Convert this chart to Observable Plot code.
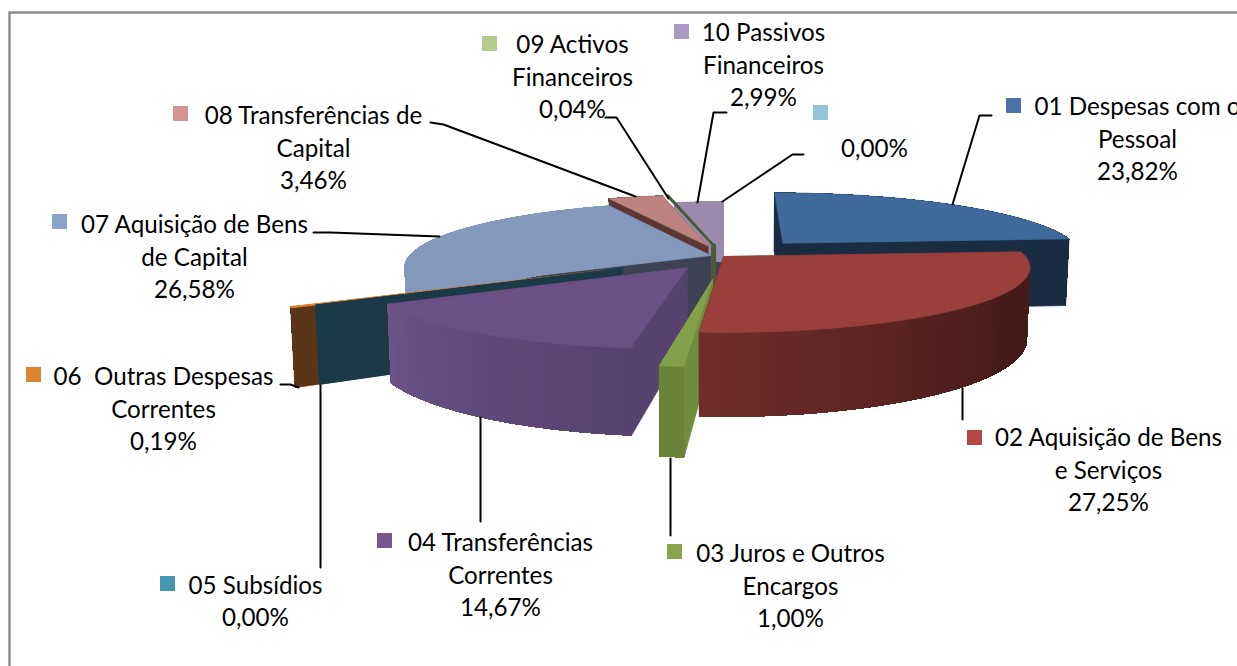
<!DOCTYPE html>
<html>
<head>
<meta charset="utf-8">
<script src="https://cdn.jsdelivr.net/npm/d3@7"></script>
<script src="https://cdn.jsdelivr.net/npm/@observablehq/plot@0.6"></script>
<style>
html,body{margin:0;padding:0;background:#fff;overflow:hidden}
svg{display:block;max-width:none}
</style>
</head>
<body>
<div id="chart"></div>
<script>
// ---- data
const categories = ["01 Despesas com o\nPessoal","02 Aquisição de Bens\ne Serviços","03 Juros e Outros\nEncargos","04 Transferências\nCorrentes","05 Subsídios","06  Outras Despesas\nCorrentes","07 Aquisição de Bens\nde Capital","08 Transferências de\nCapital","09 Activos\nFinanceiros","10 Passivos\nFinanceiros",""];
const values = [23.82,27.25,1.00,14.67,0.00,0.19,26.58,3.46,0.04,2.99,0.00];

// ---- styling
const explode = [0.30,0,0.35,0.21,0.375,0.445,0.045,0.18,0.18,0.02,0];
const keyColors = ["#4a74a8","#b54744","#86a44a","#75568f","#4198af","#dd8433","#8aa3cb","#d49493","#b3cc8e","#a99bc3","#93c4da"];
const topColors = ["#3f6a9b","#9b3f3d","#83a04a","#6a5085","#1b3a47","#e07f2a","#8599bd","#bc8380","#4d5a38","#9a8bac","#93c4da"];
const wallFrom  = ["#1a2c42","#702d2b","#6b8239","#57416f","#1b3a47","#5a3518","#8599bd","#5a3838","#4d5a38","#9a8bac","#93c4da"];
const wallTo    = ["#1a2c42","#451b19","#6b8239","#6b5287","#1b3a47","#5a3518","#8599bd","#5a3838","#4d5a38","#9a8bac","#93c4da"];
const sideStart = ["#1a2c42","#702d2b","#728c3e","#57416f","#1b3a47","#5a3518","#3c4253","#5a3838","#4d5a38","#3c4253","#93c4da"];
const sideEnd   = ["#1a2c42","#451b19","#728c3e","#57416f","#1b3a47","#5a3518","#3c4253","#5a3838","#4d5a38","#3c4253","#93c4da"];
const paintOrder = [9,0,7,8,6,"olive",5,4,3,2,1];

// ---- pie camera model
const cam = {cx:723, cy:256, rx:302, ry:63, p:0.17, depth:70, shrink:0.99};
const project = (X,Y,down) => {
  const w = 1 + cam.p*Y;
  const s = down ? cam.shrink : 1;
  return [cam.cx + cam.rx*X/w*s, cam.cy - cam.ry*Y/w + (down ? cam.depth/w : 0)];
};
const rad = d => d*Math.PI/180;
const total = d3.sum(values);
let acc = 0;
const slices = values.map((v,i)=>{
  const a0 = acc/total*360; acc += v; const a1 = acc/total*360;
  const mid = (a0+a1)/2, e = explode[i];
  const ox = e*Math.sin(rad(mid)), oy = e*Math.cos(rad(mid));
  const at = (a,r,down)=>project(ox+r*Math.sin(rad(a)), oy+r*Math.cos(rad(a)), down);
  return {i,a0,a1,at};
});

// polygons are collected layer by layer so they can be painted back to front
const layers = [];
let pid = 0;
const layer = crisp => { const l={crisp,rows:[]}; layers.push(l); return l; };
const add = (l,pts,color,sw=0.7)=>{const id=pid++; [...pts,pts[0]].forEach(p=>l.rows.push({id,x:p[0],y:p[1],color,sw}));};
function drawSlice(s){
  const {i,a0,a1,at} = s;
  if (i!==8) {
    const sides = layer(false);
    const side = (a,c)=>add(sides,[at(a,0,false),at(a,1,false),at(a,1,true),at(a,0,true)],c);
    side(a1,sideEnd[i]);
    side(a0,sideStart[i]);
    const arc = layer(true);
    const n = Math.max(1,Math.ceil((a1-a0)/1.5));
    const col = d3.interpolateRgb(wallFrom[i],wallTo[i]);
    for(let k=0;k<n;k++){
      const b0=a0+(a1-a0)*k/n, b1=a0+(a1-a0)*(k+1)/n, t=(k+.5)/n;
      const c = i===1 ? col(Math.min(1,(1-t)/0.62)) : col(t);
      add(arc,[at(b0,1,false),at(b1,1,false),at(b1,1,true),at(b0,1,true)],c,1);
    }
  }
  const n = Math.max(1,Math.ceil((a1-a0)/1.5));
  const top=[at(a0,0,false)];
  for(let k=0;k<=n;k++) top.push(at(a0+(a1-a0)*k/n,1,false));
  add(layer(false),top,topColors[i], i===8?2.6:(i===5?1.2:0.7));
}
paintOrder.forEach(o=>{
  if(o==="olive"){ const s=slices[8]; add(layer(false),[s.at(s.a0,0,false),s.at(s.a0,0,true)],"#4d5a38",5); }
  else drawSlice(slices[o]);
});
const sliceMarks = layers.map(l=>Plot.line(l.rows,{x:"x",y:"y",z:"id",fill:"color",stroke:"color",strokeWidth:"sw",strokeLinejoin:"round",shapeRendering:l.crisp?"crispEdges":"auto"}));

// ---- label layout
const labelX = [1137,1108,790,500,255,163,194,313,572,763,874];
const labelY = [139,470,586,575,601,409,257,148,77,65,148];
const keyX   = [1006,967,667,377,160,26,52,173,482,674,813];
const keyY   = [98,430,544,533,576,367,214,106,36,24,105];
const keySize = 15;
const lineStep = 32.5, fontSize = 24.2;
const pct = v => d3.format(".2f")(v).replace(".",",")+"%";
const labels = categories.map((c,i)=>({x:labelX[i],y:labelY[i],text:(c?c+"\n":"")+pct(values[i])}));
const keys = keyColors.map((c,i)=>({x1:keyX[i],x2:keyX[i]+keySize,y1:keyY[i],y2:keyY[i]+keySize,c}));

const leaderPaths = [
  [[952,204],[979,115],[991,115]],
  [[962,388],[962,419]],
  [[670,458],[670,535]],
  [[480,417],[480,521]],
  [[320,385],[320,567]],
  [[280,384],[290,384],[298,387]],
  [[313,232],[330,232],[439,236]],
  [[430,122],[443,124],[635,196]],
  [[605,117],[616,117],[668,198]],
  [[726,112],[713,112],[697,202]],
  [[803,154],[792,154],[722,201]]
];
const leaders = leaderPaths.flatMap((p,id)=>p.map(q=>({id,x:q[0],y:q[1]})));
const frame = [{x:9,y:666},{x:9,y:12},{x:1237,y:12}];

const chart = Plot.plot({
  width:1237, height:666, margin:0,
  x:{domain:[0,1237],range:[0,1237],axis:null},
  y:{domain:[0,666],range:[0,666],axis:null},
  color:{type:"identity"},
  style:{background:"#fff",fontFamily:"Lato, 'Open Sans', sans-serif"},
  marks:[
    Plot.line(frame,{x:"x",y:"y",stroke:"#8a8a8a",strokeWidth:2.4}),
    ...sliceMarks,
    Plot.line(leaders,{x:"x",y:"y",z:"id",stroke:"#000",strokeWidth:2}),
    Plot.rect(keys,{x1:"x1",x2:"x2",y1:"y1",y2:"y2",fill:"c",inset:0}),
    Plot.text(labels,{x:"x",y:"y",dy:-2,text:"text",textAnchor:"middle",lineAnchor:"middle",fontSize,lineHeight:lineStep/fontSize,fill:"#000"})
  ]
});
document.getElementById("chart").append(chart);
</script>
</body>
</html>
